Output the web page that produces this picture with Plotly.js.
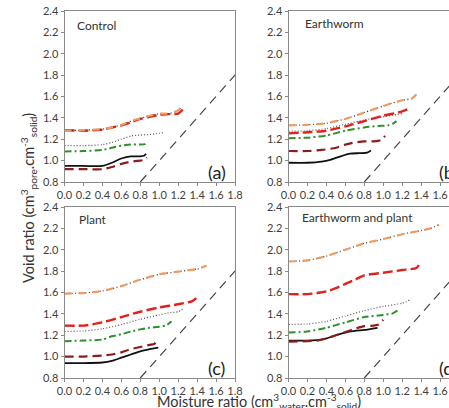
<!DOCTYPE html>
<html>
<head>
<meta charset="utf-8">
<script src="https://cdn.plot.ly/plotly-3.0.1.min.js"></script>
<style>
html,body{margin:0;padding:0;overflow:hidden;background:#fff;}
#chart{width:470px;height:408px;}
</style>
</head>
<body>
<div id="chart"></div>
<script>
// ---- Data (moisture ratio x, void ratio y) ----
// Panel (a) Control
var a_black_x = [0, 0.2, 0.4, 0.5, 0.6, 0.7, 0.8, 0.84, 0.86];
var a_black_y = [0.95, 0.95, 0.95, 0.98, 1.02, 1.04, 1.04, 1.045, 1.065];
var a_dred_x = [0, 0.2, 0.4, 0.5, 0.6, 0.7, 0.8, 0.84, 0.87];
var a_dred_y = [0.92, 0.92, 0.92, 0.94, 0.97, 0.99, 1.00, 1.005, 1.03];
var a_green_x = [0, 0.2, 0.4, 0.5, 0.6, 0.7, 0.8, 0.85, 0.88];
var a_green_y = [1.085, 1.09, 1.10, 1.12, 1.14, 1.15, 1.15, 1.155, 1.175];
var a_dot_x = [0, 0.2, 0.4, 0.5, 0.6, 0.7, 0.8, 0.9, 1.0, 1.05];
var a_dot_y = [1.14, 1.14, 1.15, 1.17, 1.20, 1.23, 1.24, 1.245, 1.255, 1.265];
var a_red_x = [0, 0.2, 0.4, 0.5, 0.6, 0.7, 0.8, 0.9, 1.0, 1.1, 1.2, 1.25];
var a_red_y = [1.285, 1.28, 1.29, 1.31, 1.33, 1.36, 1.39, 1.41, 1.43, 1.435, 1.44, 1.48];
var a_orange_x = [0, 0.2, 0.4, 0.5, 0.6, 0.7, 0.8, 0.9, 1.0, 1.1, 1.2, 1.24];
var a_orange_y = [1.28, 1.285, 1.295, 1.31, 1.335, 1.37, 1.395, 1.42, 1.44, 1.44, 1.47, 1.515];

// Panel (b) Earthworm
var b_black_x = [0, 0.2, 0.35, 0.45, 0.55, 0.65, 0.75, 0.83, 0.87];
var b_black_y = [0.98, 0.98, 0.99, 1.01, 1.04, 1.065, 1.07, 1.075, 1.095];
var b_dred_x = [0, 0.2, 0.35, 0.5, 0.6, 0.7, 0.8, 0.9, 0.97, 1.02];
var b_dred_y = [1.09, 1.09, 1.10, 1.12, 1.15, 1.17, 1.18, 1.18, 1.19, 1.23];
var b_green_x = [0, 0.2, 0.4, 0.6, 0.8, 0.95, 1.05, 1.1, 1.14];
var b_green_y = [1.21, 1.215, 1.235, 1.28, 1.31, 1.325, 1.33, 1.345, 1.37];
var b_dot_x = [0, 0.2, 0.4, 0.6, 0.8, 1.0, 1.2];
var b_dot_y = [1.275, 1.28, 1.30, 1.34, 1.38, 1.41, 1.44];
var b_red_x = [0, 0.2, 0.4, 0.6, 0.8, 1.0, 1.2, 1.28];
var b_red_y = [1.255, 1.265, 1.28, 1.32, 1.37, 1.42, 1.46, 1.49];
var b_orange_x = [0, 0.2, 0.4, 0.6, 0.8, 1.0, 1.1, 1.2, 1.3, 1.35];
var b_orange_y = [1.33, 1.335, 1.35, 1.39, 1.45, 1.51, 1.54, 1.565, 1.58, 1.62];

// Panel (c) Plant
var c_black_x = [0, 0.2, 0.4, 0.5, 0.6, 0.7, 0.8, 0.9, 0.99];
var c_black_y = [0.94, 0.94, 0.945, 0.96, 0.99, 1.02, 1.05, 1.07, 1.085];
var c_dred_x = [0, 0.2, 0.4, 0.5, 0.6, 0.7, 0.8, 0.9, 0.95, 0.98];
var c_dred_y = [1.00, 1.00, 1.01, 1.02, 1.04, 1.07, 1.09, 1.11, 1.12, 1.16];
var c_green_x = [0, 0.2, 0.4, 0.5, 0.6, 0.7, 0.8, 0.9, 1.0, 1.08, 1.13];
var c_green_y = [1.145, 1.15, 1.16, 1.19, 1.21, 1.235, 1.255, 1.27, 1.28, 1.295, 1.33];
var c_dot_x = [0, 0.2, 0.4, 0.6, 0.8, 1.0, 1.1, 1.2, 1.26];
var c_dot_y = [1.235, 1.24, 1.26, 1.30, 1.35, 1.39, 1.41, 1.42, 1.45];
var c_red_x = [0, 0.2, 0.4, 0.6, 0.8, 1.0, 1.2, 1.35, 1.42];
var c_red_y = [1.29, 1.29, 1.32, 1.37, 1.42, 1.46, 1.49, 1.52, 1.57];
var c_orange_x = [0, 0.2, 0.4, 0.6, 0.8, 1.0, 1.2, 1.4, 1.5];
var c_orange_y = [1.59, 1.595, 1.615, 1.66, 1.72, 1.77, 1.795, 1.82, 1.85];

// Panel (d) Earthworm and plant
var d_black_x = [0, 0.2, 0.3, 0.4, 0.5, 0.6, 0.7, 0.8, 0.94];
var d_black_y = [1.15, 1.15, 1.155, 1.17, 1.20, 1.225, 1.24, 1.25, 1.27];
var d_dred_x = [0, 0.2, 0.3, 0.4, 0.5, 0.6, 0.7, 0.8, 0.9, 0.95, 1.0];
var d_dred_y = [1.14, 1.145, 1.15, 1.17, 1.20, 1.23, 1.26, 1.285, 1.29, 1.30, 1.345];
var d_green_x = [0, 0.2, 0.4, 0.6, 0.8, 1.0, 1.1, 1.15];
var d_green_y = [1.225, 1.235, 1.27, 1.32, 1.37, 1.39, 1.405, 1.43];
var d_dot_x = [0, 0.2, 0.4, 0.6, 0.8, 1.0, 1.2, 1.28];
var d_dot_y = [1.30, 1.305, 1.33, 1.38, 1.43, 1.47, 1.50, 1.53];
var d_red_x = [0, 0.2, 0.3, 0.4, 0.5, 0.6, 0.7, 0.8, 1.0, 1.2, 1.35, 1.4];
var d_red_y = [1.585, 1.585, 1.595, 1.61, 1.64, 1.68, 1.72, 1.76, 1.785, 1.81, 1.83, 1.885];
var d_orange_x = [0, 0.2, 0.4, 0.6, 0.8, 1.0, 1.2, 1.4, 1.5, 1.59];
var d_orange_y = [1.89, 1.90, 1.94, 2.00, 2.06, 2.10, 2.145, 2.18, 2.20, 2.235];

// Saturation (1:1) line
var sat_x = [0.8, 2.4];
var sat_y = [0.8, 2.4];

var panelTitles = ["Control", "Earthworm", "Plant", "Earthworm and plant"];
var panelLabels = ["(a)", "(b)", "(c)", "(d)"];

var panels = [
  {k:'', d:{black:[a_black_x,a_black_y], dred:[a_dred_x,a_dred_y], green:[a_green_x,a_green_y], dot:[a_dot_x,a_dot_y], red:[a_red_x,a_red_y], orange:[a_orange_x,a_orange_y]}},
  {k:'2', d:{black:[b_black_x,b_black_y], dred:[b_dred_x,b_dred_y], green:[b_green_x,b_green_y], dot:[b_dot_x,b_dot_y], red:[b_red_x,b_red_y], orange:[b_orange_x,b_orange_y]}},
  {k:'3', d:{black:[c_black_x,c_black_y], dred:[c_dred_x,c_dred_y], green:[c_green_x,c_green_y], dot:[c_dot_x,c_dot_y], red:[c_red_x,c_red_y], orange:[c_orange_x,c_orange_y]}},
  {k:'4', d:{black:[d_black_x,d_black_y], dred:[d_dred_x,d_dred_y], green:[d_green_x,d_green_y], dot:[d_dot_x,d_dot_y], red:[d_red_x,d_red_y], orange:[d_orange_x,d_orange_y]}}
];

var styles = {
  black: {color:'#111111', width:1.8, dash:'solid'},
  dred:  {color:'#8e1c1c', width:2.2, dash:'9px,5px'},
  green: {color:'#2f8f2a', width:2.0, dash:'7px,3px,2px,3px'},
  dot:   {color:'#555555', width:1.2, dash:'1px,2px'},
  red:   {color:'#e3211c', width:2.4, dash:'10px,4px'}
};

var traces = [];
panels.forEach(function(p){
  var xa = 'x'+p.k, ya = 'y'+p.k;
  traces.push({x:sat_x, y:sat_y, xaxis:xa, yaxis:ya, mode:'lines', hoverinfo:'skip',
    line:{color:'#444444', width:1.2, dash:'9px,6px'}, showlegend:false});
  ['black','dred','green','dot','red'].forEach(function(s){
    traces.push({x:p.d[s][0], y:p.d[s][1], xaxis:xa, yaxis:ya, mode:'lines', showlegend:false,
      line:{color:styles[s].color, width:styles[s].width, dash:styles[s].dash, shape:'spline', smoothing:0.6}});
  });
  // orange: dark dots under orange dashes
  traces.push({x:p.d.orange[0], y:p.d.orange[1], xaxis:xa, yaxis:ya, mode:'lines', showlegend:false,
    line:{color:'#3a3a3a', width:1.3, dash:'1px,2.5px', shape:'spline', smoothing:0.6}});
  traces.push({x:p.d.orange[0], y:p.d.orange[1], xaxis:xa, yaxis:ya, mode:'lines', showlegend:false,
    line:{color:'#f39a5e', width:2.2, dash:'7px,7px', shape:'spline', smoothing:0.6}});
});

var W = 470, H = 408;
var xl = [64.5, 288.5], pw = 170.5;
var yt = [11, 207], ph = 171;
function xd(i){ return [xl[i]/W, (xl[i]+pw)/W]; }
function yd(j){ return [(H-yt[j]-ph)/H, (H-yt[j])/H]; }

var tickFont = {family:'Lato, "Open Sans", sans-serif', size:11, color:'#404040'};
function xAxis(i, anchor){
  return {domain:xd(i), anchor:anchor, range:[0,1.8], dtick:0.2, tick0:0, tickformat:'.1f',
    showline:true, mirror:true, linecolor:'#8a8a8a', linewidth:1, showgrid:false, zeroline:false,
    ticks:'outside', ticklen:3, tickcolor:'#8a8a8a', tickfont:tickFont, fixedrange:true};
}
function yAxis(j, anchor){
  return {domain:yd(j), anchor:anchor, range:[0.8,2.4], dtick:0.2, tick0:0.8, tickformat:'.1f',
    showline:true, mirror:true, linecolor:'#8a8a8a', linewidth:1, showgrid:false, zeroline:false,
    ticks:'outside', ticklen:3, tickcolor:'#8a8a8a', tickfont:tickFont, fixedrange:true};
}

var annFont = {family:'Lato, "Open Sans", sans-serif', color:'#222222'};
var annotations = [];
var titlePos = [[0.062,0.918],[0.087,0.925],[0.072,0.925],[0.067,0.94]];
var labelPos = [[0.83,0.06],[0.87,0.06],[0.83,0.06],[0.87,0.06]];
['', '2', '3', '4'].forEach(function(k, i){
  annotations.push({text:panelTitles[i], xref:'x'+k+' domain', yref:'y'+k+' domain',
    x:titlePos[i][0], y:titlePos[i][1], xanchor:'left', yanchor:'middle', showarrow:false,
    font:{family:annFont.family, color:'#333333', size:12}});
  annotations.push({text:panelLabels[i], xref:'x'+k+' domain', yref:'y'+k+' domain',
    x:labelPos[i][0], y:labelPos[i][1], xanchor:'left', yanchor:'middle', showarrow:false,
    font:{family:annFont.family, color:'#222222', size:18}});
});
annotations.push({text:'Moisture ratio (cm<sup>3</sup><sub>water</sub>.cm<sup>-3</sup><sub>solid</sub>)',
  xref:'paper', yref:'paper', x:259/W, y:(H-401)/H, xanchor:'center', yanchor:'middle', showarrow:false,
  font:{family:annFont.family, color:'#333333', size:14.5}});
annotations.push({text:'Void ratio (cm<sup>3</sup><sub>pore</sub>.cm<sup>-3</sup><sub>solid</sub>)',
  xref:'paper', yref:'paper', x:28/W, y:(H-198)/H, xanchor:'center', yanchor:'middle', textangle:-90, showarrow:false,
  font:{family:annFont.family, color:'#333333', size:14.5}});

var layout = {
  width:W, height:H, margin:{l:0,r:0,t:0,b:0},
  paper_bgcolor:'#ffffff', plot_bgcolor:'#ffffff', showlegend:false,
  xaxis:xAxis(0,'y'), yaxis:yAxis(0,'x'),
  xaxis2:xAxis(1,'y2'), yaxis2:yAxis(0,'x2'),
  xaxis3:xAxis(0,'y3'), yaxis3:yAxis(1,'x3'),
  xaxis4:xAxis(1,'y4'), yaxis4:yAxis(1,'x4'),
  annotations:annotations
};

Plotly.newPlot('chart', traces, layout, {staticPlot:true, displayModeBar:false});
</script>
</body>
</html>
